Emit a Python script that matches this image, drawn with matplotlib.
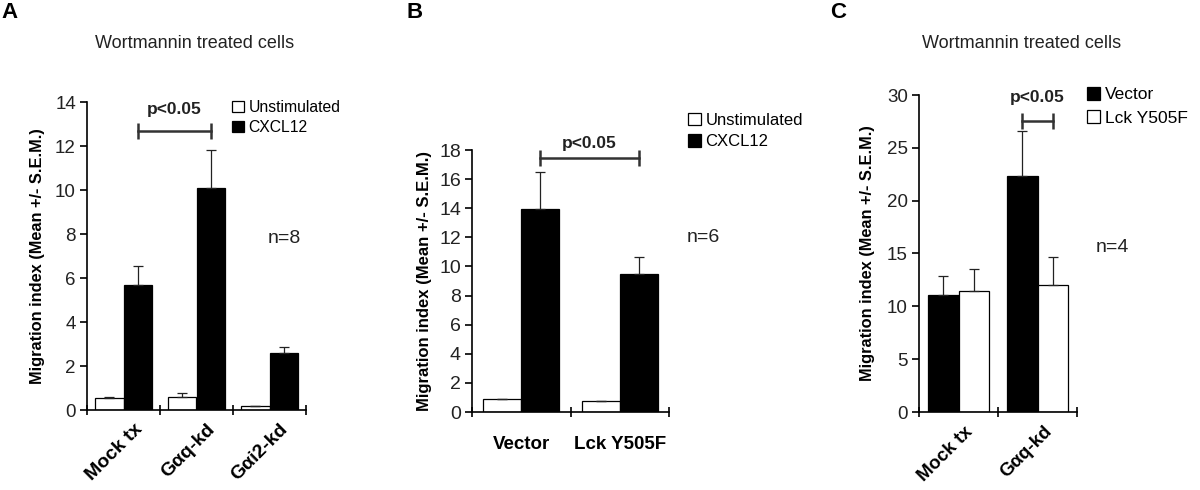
import numpy as np
import matplotlib
matplotlib.use("Agg")
import matplotlib.pyplot as plt
import matplotlib.transforms as mtransforms
from matplotlib.patches import Patch

plt.rcParams['font.family'] = ['Liberation Sans', 'DejaVu Sans']

# panel A - wortmannin treated, knockdowns
a_cats = ["Mock tx", "G\u03b1q-kd", "G\u03b1i2-kd"]
a_unstim = [0.56, 0.60, 0.18]
a_unstim_err = [0.05, 0.16, 0.02]
a_cxcl12 = [5.68, 10.07, 2.59]
a_cxcl12_err = [0.88, 1.73, 0.27]

# panel B - Lck Y505F
b_cats = ["Vector", "Lck Y505F"]
b_unstim = [0.88, 0.74]
b_unstim_err = [0.04, 0.05]
b_cxcl12 = [13.98, 9.47]
b_cxcl12_err = [2.5, 1.2]

# panel C - wortmannin treated, vector vs Lck Y505F
c_cats = ["Mock tx", "G\u03b1q-kd"]
c_vector = [11.08, 22.32]
c_vector_err = [1.8, 4.3]
c_lck = [11.48, 12.02]
c_lck_err = [2.02, 2.65]

W, H = 1200, 490
fig = plt.figure(figsize=(W / 100, H / 100), dpi=100)


def px_axes(x0, x1, y0, y1):
    # x0/x1 left/right pixel, y0 bottom pixel (value 0), y1 top pixel
    return fig.add_axes([x0 / W, (H - y0) / H, (x1 - x0) / W, (y0 - y1) / H])


def draw_panel(ax, cats, series, errs, colors, labels, ymax, ystep, tick_fs):
    n = len(cats)
    width = 0.385
    xs = np.arange(n)
    for i, (vals, err, col) in enumerate(zip(series, errs, colors)):
        ax.bar(xs + (i - 0.5) * width, vals, width, color=col, edgecolor='black', linewidth=0.9,
               yerr=[np.zeros(n), err], label=labels[i],
               error_kw=dict(ecolor='#222222', elinewidth=0.9, capsize=3.5, capthick=0.9))
    ax.set_xlim(-0.5, n - 0.5)
    ax.set_ylim(0, ymax)
    ax.set_yticks(np.arange(0, ymax + 0.01, ystep))
    for s in ['top', 'right']:
        ax.spines[s].set_visible(False)
    for s in ['left', 'bottom']:
        ax.spines[s].set_linewidth(1.2)
    ax.tick_params(axis='y', direction='out', length=5, width=1.2, labelsize=tick_fs, pad=3,
                   labelcolor='#222222')
    ax.set_xticks(xs)
    ax.set_xticks(np.arange(n + 1) - 0.5, minor=True)
    ax.tick_params(axis='x', which='major', length=0, pad=8)
    ax.tick_params(axis='x', which='minor', direction='inout', length=7, width=1.2)
    return xs, width


def sig_bar(ax, x1, x2, y, ytext, fs=12.5):
    ax.plot([x1, x2], [y, y], color='#333333', lw=1.8, marker='|', markersize=11, mew=1.8,
            clip_on=False)
    ax.text((x1 + x2) / 2, ytext, "p<0.05", ha='center', va='center', fontsize=fs,
            fontweight='bold', color='#222222', clip_on=False)


def legend(ax, labels, colors, x, y, fs, spacing):
    handles = [Patch(facecolor=c, edgecolor='black', linewidth=0.9) for c in colors]
    ax.legend(handles, labels, loc='upper left', bbox_to_anchor=(x / W, 1 - y / H),
              bbox_transform=fig.transFigure, frameon=False, borderpad=0, borderaxespad=0,
              handlelength=0.75, handleheight=0.75, handletextpad=0.3, labelspacing=spacing,
              fontsize=fs)


def rot_labels(ax, cats, dx, fs):
    offset = mtransforms.ScaledTranslation(dx / 100, 0, fig.dpi_scale_trans)
    ax.set_xticklabels(cats, rotation=45, ha='right', va='top', rotation_mode='anchor',
                       fontsize=fs, fontweight='bold')
    for lab in ax.get_xticklabels():
        lab.set_transform(lab.get_transform() + offset)


# ---------- A ----------
axA = px_axes(87, 306, 410, 102)
xs, w = draw_panel(axA, a_cats, [a_unstim, a_cxcl12], [a_unstim_err, a_cxcl12_err],
                   ['white', 'black'], ['Unstimulated', 'CXCL12'], 14, 2, 13.5)
rot_labels(axA, a_cats, 10, 14)
axA.set_ylabel("Migration index (Mean +/- S.E.M.)", fontsize=11.8, fontweight='bold')
axA.yaxis.set_label_coords(-0.19, 0.5)
sig_bar(axA, xs[0] + w / 2, xs[1] + w / 2, 12.7, 13.64)
legend(axA, ['Unstimulated', 'CXCL12'], ['white', 'black'], 232, 100, 11.3, 0.33)

# ---------- B ----------
axB = px_axes(472, 669, 412, 150)
xs, w = draw_panel(axB, b_cats, [b_unstim, b_cxcl12], [b_unstim_err, b_cxcl12_err],
                   ['white', 'black'], ['Unstimulated', 'CXCL12'], 18, 2, 14)
axB.set_xticklabels(b_cats, fontsize=13.5, fontweight='bold')
axB.tick_params(axis='x', which='major', pad=17)
axB.set_ylabel("Migration index (Mean +/- S.E.M.)", fontsize=12, fontweight='bold')
axB.yaxis.set_label_coords(-0.203, 0.5)
sig_bar(axB, xs[0] + w / 2, xs[1] + w / 2, 17.45, 18.48)
legend(axB, ['Unstimulated', 'CXCL12'], ['white', 'black'], 688, 113, 12, 0.38)

# ---------- C ----------
axC = px_axes(919, 1077, 412, 95)
xs, w = draw_panel(axC, c_cats, [c_vector, c_lck], [c_vector_err, c_lck_err],
                   ['black', 'white'], ['Vector', 'Lck Y505F'], 30, 5, 13.5)
rot_labels(axC, c_cats, 6, 13.5)
axC.set_ylabel("Migration index (Mean +/- S.E.M.)", fontsize=11.8, fontweight='bold')
axC.yaxis.set_label_coords(-0.278, 0.5)
sig_bar(axC, xs[1] - w / 2, xs[1] + w / 2, 27.5, 29.8)
legend(axC, ['Vector', 'Lck Y505F'], ['black', 'white'], 1087, 87, 12.5, 0.45)

# titles, panel letters, n annotations
fig.text(195 / W, 1 - 44 / H, "Wortmannin treated cells", ha='center', va='center',
         fontsize=13, color='#222222')
fig.text(1022 / W, 1 - 44 / H, "Wortmannin treated cells", ha='center', va='center',
         fontsize=13, color='#222222')
for letter, x in [("A", 10), ("B", 415), ("C", 838)]:
    fig.text(x / W, 1 - 12 / H, letter, ha='center', va='center', fontsize=16,
             fontweight='bold')
for txt, x, y in [("n=8", 284, 238), ("n=6", 703, 237), ("n=4", 1112, 248)]:
    fig.text(x / W, 1 - y / H, txt, ha='center', va='center', fontsize=14, color='#222222')

fig.savefig("out.png", dpi=100)
